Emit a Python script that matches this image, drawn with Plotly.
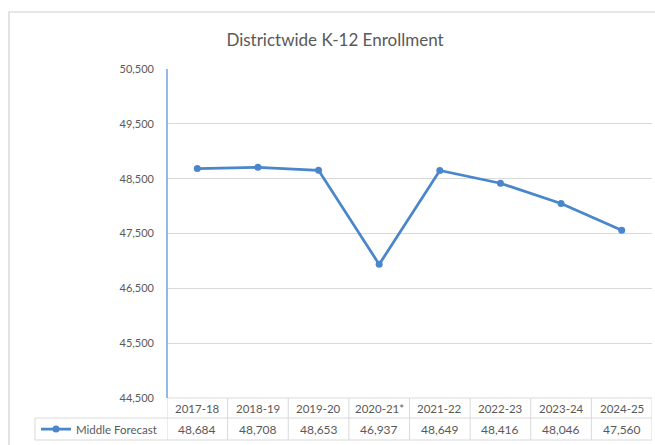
import plotly.graph_objects as go

categories = ["2017-18", "2018-19", "2019-20", "2020-21*", "2021-22", "2022-23", "2023-24", "2024-25"]
values = [48684, 48708, 48653, 46937, 48649, 48416, 48046, 47560]
series_name = "Middle Forecast"
y_ticks = [44500, 45500, 46500, 47500, 48500, 49500, 50500]
title_text = "Districtwide K-12 Enrollment"

W, H = 655, 445
L, R, T, B = 167, 652, 69, 398
pw, ph = R - L, B - T

def px_x(px):
    return (px - L) / pw

def px_y(py):
    return (B - py) / ph

line_color = "#4a86cb"
text_color = "#595959"
grid_color = "#d9d9d9"
border_color = "#d0d0d0"
font_family = "Lato, 'Open Sans', sans-serif"

idx = list(range(len(categories)))

fig = go.Figure()
fig.add_trace(go.Scatter(
    x=idx, y=values, mode="lines+markers", name=series_name,
    line=dict(color=line_color, width=2.75),
    marker=dict(color=line_color, size=7),
    showlegend=True, cliponaxis=False,
))

shapes = []
# outer chart border
shapes.append(dict(type="rect", xref="paper", yref="paper",
                   x0=px_x(9), x1=px_x(662), y0=px_y(452), y1=px_y(12),
                   line=dict(color=border_color, width=1.2), layer="below"))
# data table lines
row1_top, row1_bot, row2_bot = 398, 418, 440
shapes.append(dict(type="line", xref="paper", yref="paper",
                   x0=0, x1=1, y0=px_y(row1_top), y1=px_y(row1_top),
                   line=dict(color=grid_color, width=1)))
shapes.append(dict(type="line", xref="paper", yref="paper",
                   x0=px_x(35), x1=1, y0=px_y(row1_bot), y1=px_y(row1_bot),
                   line=dict(color=grid_color, width=1)))
shapes.append(dict(type="line", xref="paper", yref="paper",
                   x0=px_x(35), x1=1, y0=px_y(row2_bot), y1=px_y(row2_bot),
                   line=dict(color=grid_color, width=1)))
shapes.append(dict(type="line", xref="paper", yref="paper",
                   x0=px_x(35), x1=px_x(35), y0=px_y(row1_bot), y1=px_y(row2_bot),
                   line=dict(color=grid_color, width=1)))
for k in range(len(categories) + 1):
    shapes.append(dict(type="line", xref="x", yref="paper",
                       x0=k - 0.5, x1=k - 0.5, y0=px_y(row1_top), y1=px_y(row2_bot),
                       line=dict(color=grid_color, width=1)))
# blue left axis line
shapes.append(dict(type="line", xref="paper", yref="paper",
                   x0=0, x1=0, y0=0, y1=1,
                   line=dict(color="#6fa3dc", width=1.5)))

annotations = []
for i, (c, v) in enumerate(zip(categories, values)):
    annotations.append(dict(x=i, xref="x", y=px_y((row1_top + row1_bot) / 2), yref="paper",
                            text=c, showarrow=False, xanchor="center", yanchor="middle",
                            font=dict(size=11.5, color=text_color, family=font_family)))
    annotations.append(dict(x=i, xref="x", y=px_y((row1_bot + row2_bot) / 2), yref="paper",
                            text=f"{v:,}", showarrow=False, xanchor="center", yanchor="middle",
                            font=dict(size=12, color=text_color, family=font_family)))

fig.update_layout(
    width=W, height=H,
    margin=dict(l=L, r=W - R, t=T, b=H - B, autoexpand=False),
    paper_bgcolor="white", plot_bgcolor="white",
    title=dict(text=title_text, x=(335) / W, xanchor="center", y=1 - 40 / H, yanchor="middle",
               font=dict(size=17, color=text_color, family=font_family)),
    xaxis=dict(range=[-0.5, len(categories) - 0.5], showticklabels=False, showgrid=False,
               zeroline=False, showline=False, ticks=""),
    yaxis=dict(range=[y_ticks[0], y_ticks[-1]], tickvals=y_ticks, tickformat=",",
               showgrid=True, gridcolor=grid_color, gridwidth=1, zeroline=False,
               showline=False, ticks="", ticklabelstandoff=12,
               tickfont=dict(size=11, color=text_color, family=font_family)),
    legend=dict(x=px_x(36), xanchor="left", y=px_y((row1_bot + row2_bot) / 2), yanchor="middle",
                bgcolor="rgba(0,0,0,0)", font=dict(size=11.5, color=text_color, family=font_family),
                itemwidth=30, tracegroupgap=0),
    shapes=shapes,
    annotations=annotations,
)

fig.write_html("out.html", config={"displayModeBar": False},
               post_script="document.body.style.margin='0';document.body.style.overflow='hidden';")
